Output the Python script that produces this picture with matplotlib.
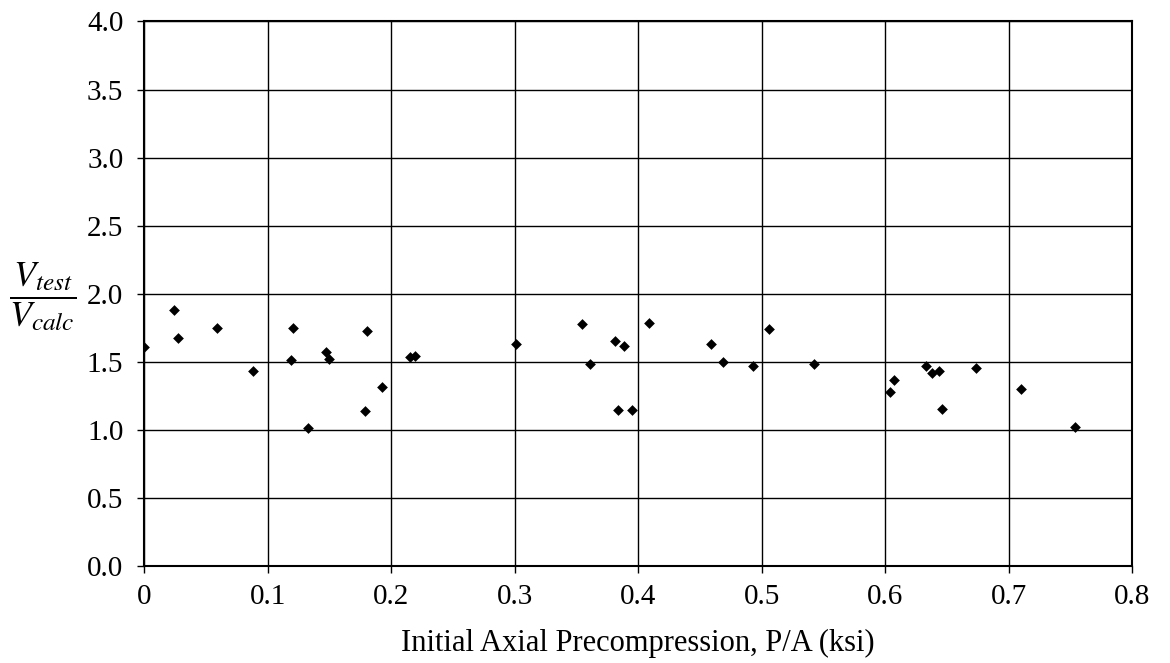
import matplotlib
matplotlib.use("Agg")
import matplotlib.pyplot as plt

x_vals = [0.000, 0.0241, 0.027, 0.0587, 0.0884, 0.1190, 0.1203, 0.1330, 0.1473, 0.1500,
          0.1790, 0.1803, 0.1925, 0.2149, 0.2189, 0.3008, 0.3549, 0.3614, 0.3816, 0.3838,
          0.3887, 0.3951, 0.4086, 0.4589, 0.4686, 0.4933, 0.5062, 0.5427, 0.6040, 0.6070,
          0.6332, 0.6384, 0.6435, 0.6460, 0.6735, 0.7102, 0.7535]
y_vals = [1.605, 1.879, 1.676, 1.747, 1.433, 1.510, 1.747, 1.012, 1.571, 1.519,
          1.137, 1.723, 1.316, 1.536, 1.540, 1.630, 1.774, 1.480, 1.654, 1.144,
          1.612, 1.144, 1.784, 1.627, 1.497, 1.466, 1.737, 1.483, 1.275, 1.367,
          1.468, 1.419, 1.429, 1.150, 1.453, 1.297, 1.022]

x_ticks = [0, 0.1, 0.2, 0.3, 0.4, 0.5, 0.6, 0.7, 0.8]
x_tick_labels = ["0", "0.1", "0.2", "0.3", "0.4", "0.5", "0.6", "0.7", "0.8"]
y_ticks = [0.0, 0.5, 1.0, 1.5, 2.0, 2.5, 3.0, 3.5, 4.0]
y_tick_labels = ["0.0", "0.5", "1.0", "1.5", "2.0", "2.5", "3.0", "3.5", "4.0"]
x_label = "Initial Axial Precompression, P/A (ksi)"

plt.rcParams['font.family'] = ['Liberation Serif', 'DejaVu Serif']
plt.rcParams['mathtext.fontset'] = 'stix'

fig = plt.figure(figsize=(11.7, 6.63), dpi=100)
ax = fig.add_axes([0.1233, 0.1468, 0.8442, 0.8208])

ax.scatter(x_vals, y_vals, marker='D', s=30, color='black', zorder=3, linewidths=0)

ax.set_xlim(0, 0.8)
ax.set_ylim(0, 4.0)
ax.set_xticks(x_ticks)
ax.set_xticklabels(x_tick_labels)
ax.set_yticks(y_ticks)
ax.set_yticklabels(y_tick_labels)
ax.grid(True, color='black', linewidth=1.0, zorder=0)
ax.set_axisbelow(True)
for sp in ax.spines.values():
    sp.set_color('black')
    sp.set_linewidth(1.5)
ax.tick_params(axis='both', direction='out', length=5, width=1, labelsize=21,
               colors='black')
ax.tick_params(axis='x', pad=8)
ax.tick_params(axis='y', pad=10)

ax.set_xlabel(x_label, fontsize=22, labelpad=14)
fig.text(43 / 1170, 1 - 297 / 663, r'$\dfrac{V_{test}}{V_{calc}}$', fontsize=26,
         ha='center', va='center')

fig.savefig("out.png", dpi=100)
